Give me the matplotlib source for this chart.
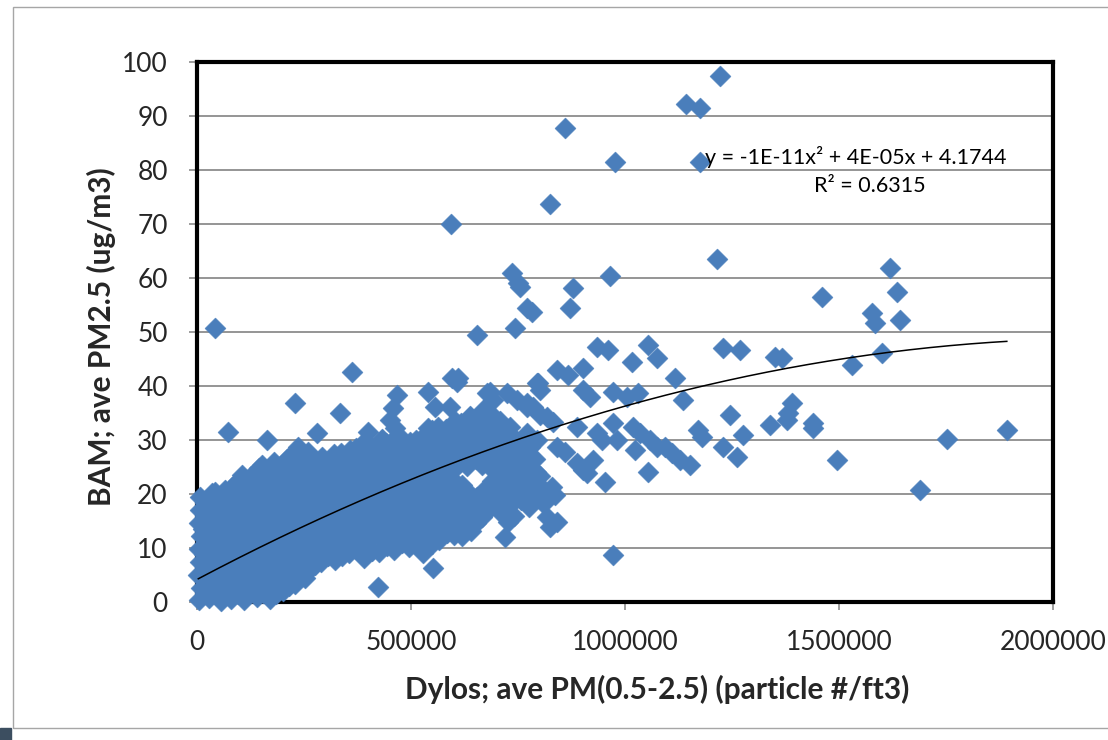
import numpy as np
import matplotlib.pyplot as plt
from matplotlib.patches import Rectangle

plt.rcParams['font.family'] = ['Lato', 'DejaVu Sans']

# (Dylos in thousands of particles/ft3, BAM ug/m3)
# dense band near the origin
cluster = [
    (4, 0.3), (9, 2.6), (3, 5.0), (8, 7.4), (5, 9.8), (10, 12.2), (4, 14.6), (8, 17.0), (6, 19.4),
    (28, 0.8), (33, 3.2), (26, 5.6), (31, 8.0), (29, 10.4), (34, 12.8), (27, 15.2), (32, 17.6), (35, 20.2),
    (55, 0.2), (52, 2.4), (58, 4.8), (54, 7.2), (57, 9.6), (51, 12.0), (56, 14.4), (53, 16.8), (59, 19.2), (82, 21.3),
    (80, 0.6), (84, 3.0), (78, 5.4), (82, 7.8), (79, 10.2), (85, 12.6), (77, 15.0), (83, 17.4), (80, 19.8), (105, 23.5),
    (110, 0.3), (106, 2.7), (112, 5.1), (108, 7.5), (114, 9.9), (107, 12.3), (111, 14.7), (109, 17.1), (113, 19.5), (110, 21.9),
    (140, 0.9), (143, 3.3), (137, 5.7), (141, 8.1), (139, 10.5), (144, 12.9), (136, 15.3), (142, 17.7), (138, 20.1), (141, 22.5), (145, 24.8),
    (170, 0.5), (166, 2.9), (172, 5.3), (168, 7.7), (174, 10.1), (167, 12.5), (171, 14.9), (169, 17.3), (173, 19.7), (170, 22.1), (166, 24.5), (180, 26.0),
    (200, 2.0), (204, 4.4), (198, 6.8), (202, 9.2), (199, 11.6), (205, 14.0), (197, 16.4), (203, 18.8), (201, 21.2), (196, 23.6), (210, 26.4),
    (230, 3.4), (226, 5.8), (233, 8.2), (228, 10.6), (234, 13.0), (227, 15.4), (231, 17.8), (229, 20.2), (235, 22.6), (230, 25.0), (236, 27.4),
    (262, 6.0), (258, 8.4), (264, 10.8), (259, 13.2), (265, 15.6), (257, 18.0), (261, 20.4), (263, 22.8), (256, 25.2), (260, 27.8),
    (290, 7.4), (294, 9.8), (288, 12.2), (292, 14.6), (287, 17.0), (295, 19.4), (289, 21.8), (293, 24.2), (291, 26.8),
    (322, 7.8), (318, 10.2), (324, 12.6), (319, 15.0), (325, 17.4), (317, 19.8), (321, 22.2), (323, 24.6), (320, 27.4),
    (355, 9.0), (359, 11.4), (352, 13.8), (357, 16.2), (354, 18.6), (360, 21.0), (351, 23.4), (356, 25.8), (358, 28.1),
    (390, 8.2), (386, 10.6), (393, 13.0), (388, 15.4), (394, 17.8), (387, 20.2), (391, 22.6), (389, 25.0), (395, 27.4), (392, 29.8),
    (425, 9.2), (429, 11.6), (422, 14.0), (427, 16.4), (424, 18.8), (430, 21.2), (421, 23.6), (426, 26.0), (428, 28.4), (432, 30.2),
    (460, 9.6), (456, 12.0), (463, 14.4), (458, 16.8), (464, 19.2), (457, 21.6), (461, 24.0), (459, 26.4), (465, 28.8),
    (495, 10.2), (499, 12.6), (492, 15.0), (497, 17.4), (494, 19.8), (500, 22.2), (491, 24.6), (496, 27.0), (498, 29.6),
    (530, 9.8), (526, 12.2), (533, 14.6), (528, 17.0), (534, 19.4), (527, 21.8), (531, 24.2), (529, 26.6), (535, 29.0), (532, 31.0),
    (565, 11.5), (569, 13.9), (562, 16.3), (567, 18.7), (564, 21.1), (570, 23.5), (561, 25.9), (566, 28.3), (568, 30.7), (563, 32.4),
    (600, 12.4), (596, 14.8), (603, 17.2), (598, 19.6), (604, 22.0), (597, 24.4), (601, 26.8), (599, 29.2), (605, 31.6), (602, 33.6),
    (639, 13.2), (632, 15.6), (637, 18.0), (634, 20.4), (631, 25.2), (636, 27.6), (638, 30.0), (633, 32.4), (637, 34.5),
    (666, 15.8), (673, 18.2), (668, 20.6), (667, 25.4), (671, 27.8), (669, 30.2), (675, 32.6), (672, 35.0),
    (709, 16.7), (702, 19.1), (707, 21.5), (704, 23.9), (710, 26.3), (701, 28.7), (706, 31.1), (708, 33.6),
    (740, 16.0), (736, 18.4), (743, 20.8), (738, 23.2), (744, 25.6), (737, 28.0), (741, 30.4),
    (775, 17.6), (771, 20.0), (778, 22.4), (773, 24.8), (779, 27.2), (772, 29.4),
    (805, 18.5), (808, 21.0), (802, 23.4),
]

# more points of the same band, sitting between the ones above
cluster_between = [
    (18, 1.6), (16, 4.0), (19, 6.4), (17, 8.8), (20, 11.2), (15, 13.6), (18, 16.0), (19, 18.4),
    (43, 1.4), (41, 3.8), (45, 6.2), (42, 8.6), (44, 11.0), (40, 13.4), (43, 15.8), (46, 18.2), (42, 20.4),
    (68, 1.6), (66, 4.0), (70, 6.4), (67, 8.8), (69, 11.2), (65, 13.6), (68, 16.0), (71, 18.4), (66, 20.8),
    (95, 1.5), (93, 3.9), (97, 6.3), (94, 8.7), (96, 11.1), (92, 13.5), (95, 15.9), (98, 18.3), (94, 20.7), (96, 22.4),
    (125, 1.8), (123, 4.2), (127, 6.6), (124, 9.0), (126, 11.4), (122, 13.8), (125, 16.2), (128, 18.6), (124, 21.0), (126, 23.4),
    (155, 1.7), (153, 4.1), (157, 6.5), (154, 8.9), (156, 11.3), (152, 13.7), (155, 16.1), (158, 18.5), (154, 20.9), (156, 23.3), (153, 25.4),
    (185, 1.4), (183, 3.8), (187, 6.2), (184, 8.6), (186, 11.0), (182, 13.4), (185, 15.8), (188, 18.2), (184, 20.6), (186, 23.0), (183, 25.2),
    (216, 3.0), (214, 5.4), (218, 7.8), (215, 10.2), (217, 12.6), (213, 15.0), (216, 17.4), (219, 19.8), (215, 22.2), (217, 24.6), (214, 26.8),
    (246, 5.0), (244, 7.4), (248, 9.8), (245, 12.2), (247, 14.6), (243, 17.0), (246, 19.4), (249, 21.8), (245, 24.2), (247, 26.6),
    (276, 6.8), (274, 9.2), (278, 11.6), (275, 14.0), (277, 16.4), (273, 18.8), (276, 21.2), (279, 23.6), (275, 26.0),
    (306, 8.6), (304, 11.0), (308, 13.4), (305, 15.8), (307, 18.2), (303, 20.6), (306, 23.0), (309, 25.4),
    (338, 8.6), (336, 11.0), (340, 13.4), (337, 15.8), (339, 18.2), (335, 20.6), (338, 23.0), (341, 25.4), (337, 27.6),
    (372, 9.8), (370, 12.2), (374, 14.6), (371, 17.0), (373, 19.4), (369, 21.8), (372, 24.2), (375, 26.6), (371, 28.6),
    (408, 9.4), (406, 11.8), (410, 14.2), (407, 16.6), (409, 19.0), (405, 21.4), (408, 23.8), (411, 26.2), (407, 28.6),
    (443, 10.4), (441, 12.8), (445, 15.2), (442, 17.6), (444, 20.0), (440, 22.4), (443, 24.8), (446, 27.2), (442, 29.4),
    (478, 11.0), (476, 13.4), (480, 15.8), (477, 18.2), (479, 20.6), (475, 23.0), (478, 25.4), (481, 27.8),
    (513, 10.8), (511, 13.2), (515, 15.6), (512, 18.0), (514, 20.4), (510, 22.8), (513, 25.2), (516, 27.6), (512, 30.0),
    (548, 10.8), (546, 13.2), (550, 15.6), (547, 18.0), (549, 20.4), (545, 22.8), (548, 25.2), (551, 27.6), (547, 30.0), (549, 31.8),
    (583, 12.8), (581, 15.2), (585, 17.6), (582, 20.0), (584, 22.4), (580, 24.8), (583, 27.2), (586, 29.6), (582, 32.0),
    (618, 12.2), (616, 14.4), (620, 16.8), (617, 19.2), (619, 21.6), (615, 26.0), (618, 28.4), (621, 30.8), (617, 33.2),
    (652, 14.6), (650, 17.0), (654, 19.4), (651, 26.4), (653, 28.8), (649, 31.2), (652, 33.6),
    (688, 17.6), (686, 20.0), (690, 22.4), (687, 24.8), (689, 27.2), (685, 29.6), (688, 32.0), (691, 34.4),
    (723, 17.4), (721, 19.8), (725, 22.2), (722, 24.6), (724, 27.0), (720, 29.4), (723, 31.8),
    (758, 18.8), (756, 21.2), (760, 23.6), (757, 26.0), (759, 28.4),
    (790, 19.2), (788, 21.6), (792, 24.0), (789, 26.4),
]

# scattered points around and above the band
spread = [
    (42, 50.7), (72, 31.5), (164, 30.0), (229, 36.8), (236, 28.7), (280, 31.3), (334, 35.0), (362, 42.6),
    (399, 31.5), (432, 30.0), (451, 33.7), (458, 35.9), (462, 32.2), (467, 38.3), (470, 30.9),
    (540, 38.9), (540, 32.2), (556, 36.1), (556, 29.4), (579, 30.0), (591, 36.1), (596, 41.5), (607, 40.7),
    (610, 41.5), (638, 34.3), (654, 33.7), (668, 35.6), (677, 38.7), (684, 38.9), (691, 37.4), (724, 38.7),
    (748, 37.4), (771, 36.1), (771, 36.9), (785, 36.1), (794, 40.5), (801, 39.3), (801, 34.6), (797, 40.5),
    (818, 34.3), (832, 33.3), (731, 32.4), (771, 31.3), (794, 30.0), (778, 28.7),
    (252, 4.4), (423, 2.8), (551, 6.3), (528, 9.1), (727, 14.8), (720, 12.0),
    (829, 21.3), (818, 18.9), (836, 19.8), (818, 15.7), (841, 14.8), (825, 13.9), (972, 8.7),
    (841, 28.7), (860, 27.8), (888, 25.7), (911, 23.9), (925, 26.3), (902, 24.4), (953, 22.2),
    (888, 32.4), (934, 31.3), (946, 30.0), (972, 33.1), (981, 30.0), (1019, 32.4), (1035, 31.3), (1023, 28.1),
    (1058, 30.0), (1075, 28.7), (1093, 28.7), (1110, 27.6), (1128, 26.3), (1152, 25.4), (1170, 31.9), (1180, 30.6),
    (1054, 24.1), (902, 39.3), (918, 38.0), (972, 38.9), (1004, 38.0), (1030, 38.7), (1117, 41.5), (1136, 37.4),
    (841, 43.0), (867, 42.0), (902, 43.3), (1245, 34.6), (1276, 30.9), (1229, 28.7), (1261, 26.9),
    (654, 49.4), (743, 50.7), (771, 54.4), (782, 53.7), (871, 54.4), (736, 60.9), (750, 59.1), (755, 58.3),
    (878, 58.1), (965, 60.4), (934, 47.2), (960, 46.7), (1016, 44.4), (1054, 47.6), (1075, 45.2),
    (1229, 47.0), (1268, 46.7),
    (1339, 32.8), (1350, 45.4), (1367, 45.2), (1378, 33.7), (1381, 35.0), (1390, 36.9), (1439, 33.1), (1439, 32.2),
    (1460, 56.5), (1495, 26.3), (1530, 43.9), (1577, 53.5), (1584, 51.7), (1600, 46.1), (1619, 61.8),
    (1635, 57.4), (1642, 52.2), (1689, 20.7), (1752, 30.2), (1892, 31.9),
]

# high outliers
outliers = [
    (593, 70.0), (824, 73.7), (860, 87.7), (976, 81.5), (1143, 92.2), (1176, 91.4),
    (1175, 81.5), (1215, 63.5), (1222, 97.5),
]

x_ticks = [0, 500000, 1000000, 1500000, 2000000]
x_tick_labels = ['0', '500000', '1000000', '1500000', '2000000']
y_ticks = [0, 10, 20, 30, 40, 50, 60, 70, 80, 90, 100]

# polynomial trendline (x in particles/ft3)
trend_a = -9.86e-12
trend_b = 4.196e-5
trend_c = 4.1744
eq_text = 'y = -1E-11x² + 4E-05x + 4.1744'
r2_text = 'R² = 0.6315'

pts = np.array(cluster + cluster_between + spread + outliers, dtype=float)
x = pts[:, 0] * 1000
y = pts[:, 1]

fig = plt.figure(figsize=(11.08, 7.4), dpi=100)
ax = fig.add_axes([0.1778, 0.1865, 0.7726, 0.7297])

ax.scatter(x, y, marker='D', s=115, color='#4A7EBB', edgecolors='#4A7EBB',
           linewidths=0.3, zorder=3, clip_on=False)

xt = np.linspace(x.min(), x.max(), 200)
ax.plot(xt, trend_a * xt**2 + trend_b * xt + trend_c, color='black', lw=1.1, zorder=4)

ax.text(1186000, 82.4, eq_text, fontsize=15.5, ha='left', va='center', zorder=5)
ax.text(1572000, 77.0, r2_text, fontsize=15.5, ha='center', va='center', zorder=5)

ax.set_xlim(0, 2000000)
ax.set_ylim(0, 100)
ax.set_xticks(x_ticks)
ax.set_xticklabels(x_tick_labels)
ax.set_yticks(y_ticks)
ax.tick_params(axis='both', labelsize=19, color='#8c8c8c', width=1.2, length=6,
               labelcolor='#262626')
ax.tick_params(axis='y', pad=15)
ax.tick_params(axis='x', pad=14)
ax.grid(axis='y', color='#8c8c8c', lw=1.3)
ax.set_axisbelow(True)
for sp in ax.spines.values():
    sp.set_linewidth(3)
    sp.set_color('black')

fig.text(0.593, 0.068, 'Dylos; ave PM(0.5-2.5) (particle #/ft3)', fontsize=21.5,
         fontweight='bold', ha='center', va='center', color='#262626')
fig.text(0.092, 0.545, 'BAM; ave PM2.5 (ug/m3)', fontsize=21.5, fontweight='bold',
         rotation=90, ha='center', va='center', color='#262626')

# chart area border
fig.patches.append(Rectangle((13 / 1108, 12 / 740), 1.0, 1 - 19 / 740,
                             transform=fig.transFigure, fill=False,
                             edgecolor='#a6a6a6', lw=1))
fig.patches.append(Rectangle((0, 0), 11 / 1108, 12 / 740, transform=fig.transFigure,
                             color='#3c4e60'))

fig.savefig('out.png', dpi=100)
